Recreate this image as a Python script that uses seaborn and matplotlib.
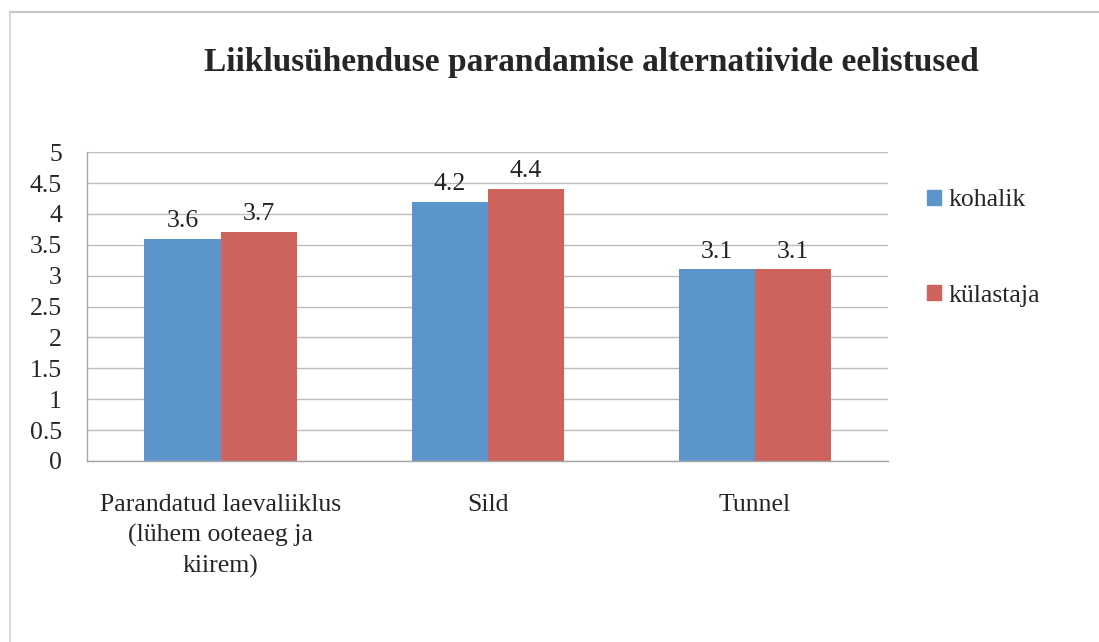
import pandas as pd
import matplotlib
matplotlib.use("Agg")
import matplotlib.pyplot as plt
import seaborn as sns
from matplotlib.lines import Line2D

# Data
categories = ["Parandatud laevaliiklus\n(lühem ooteaeg ja\nkiirem)", "Sild", "Tunnel"]
kohalik = [3.6, 4.2, 3.1]
kulastaja = [3.7, 4.4, 3.1]
groups = ["kohalik", "külastaja"]
colors = ["#5B95CB", "#CE625C"]
y_ticks = [0, 0.5, 1, 1.5, 2, 2.5, 3, 3.5, 4, 4.5, 5]

df = pd.DataFrame({
    "kategooria": categories * 2,
    "grupp": [groups[0]] * 3 + [groups[1]] * 3,
    "hinne": kohalik + kulastaja,
})

sns.set_style("white")
plt.rcParams['font.family'] = ['Liberation Serif', 'DejaVu Serif']
fs = 18.5

fig = plt.figure(figsize=(10.99, 6.42), dpi=100)
ax = fig.add_axes([0.0792, 0.282, 0.729, 0.481])

sns.barplot(data=df, x="kategooria", y="hinne", hue="grupp", order=categories,
            hue_order=groups, palette=colors, width=0.57, saturation=1,
            edgecolor="none", ax=ax, legend=False)

for c in ax.containers:
    ax.bar_label(c, fmt="%.1f", padding=5, fontsize=fs, color="#222222")

ax.set_ylim(0, 5)
ax.set_xlim(-0.5, 2.5)
ax.set_yticks(y_ticks)
ax.set_yticklabels([f"{v:g}" for v in y_ticks], fontsize=fs)
ax.set_xlabel("")
ax.set_ylabel("")
ax.yaxis.grid(True, color="#BDBDBD", linewidth=1)
ax.set_axisbelow(True)

for s in ["top", "right"]:
    ax.spines[s].set_visible(False)
for s in ["left", "bottom"]:
    ax.spines[s].set_color("#A6A6A6")
    ax.spines[s].set_linewidth(1)

ax.tick_params(axis="y", length=7, color="#A6A6A6", pad=11)
ax.tick_params(axis="x", which="major", length=0, pad=24, labelsize=fs)
for lbl in ax.get_xticklabels():
    lbl.set_linespacing(1.45)
ax.set_xticks([-0.5, 0.5, 1.5, 2.5], minor=True)
ax.tick_params(axis="x", which="minor", length=6, color="#A6A6A6")

# legend
handles = [plt.Rectangle((0, 0), 1, 1, color=col) for col in colors]
fig.legend(handles, groups, loc="upper left", bbox_to_anchor=(0.8435, 0.705),
           frameon=False, fontsize=fs, handlelength=0.55, handleheight=0.55,
           handletextpad=0.3, labelspacing=2.85, borderpad=0, borderaxespad=0)

fig.text(0.538, 0.903, "Liiklusühenduse parandamise alternatiivide eelistused",
         ha="center", va="center", fontsize=24, fontweight="bold")

# outer chart frame (top and left edges visible)
fig.add_artist(Line2D([0.009, 1.0], [0.981, 0.981], color="#C8C8C8", linewidth=1.5))
fig.add_artist(Line2D([0.009, 0.009], [0.0, 0.981], color="#D0D0D0", linewidth=1.2))

fig.savefig("out.png", dpi=100)
